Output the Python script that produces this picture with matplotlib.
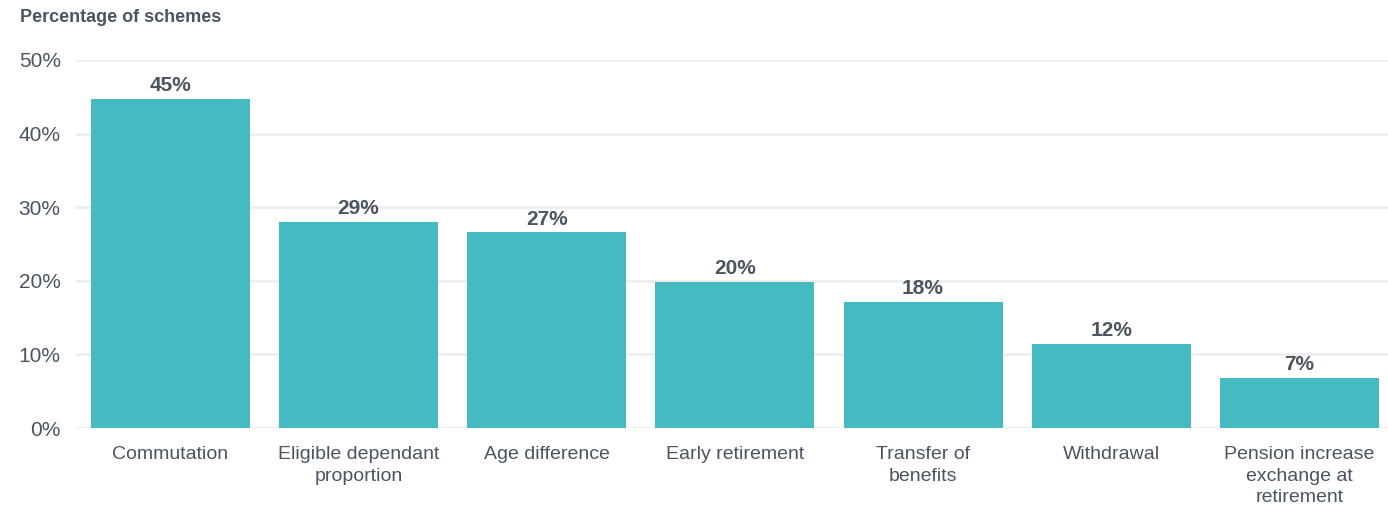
import matplotlib
matplotlib.use("Agg")
import matplotlib.pyplot as plt
from matplotlib.ticker import FuncFormatter

categories = ["Commutation", "Eligible dependant\nproportion", "Age difference",
              "Early retirement", "Transfer of\nbenefits", "Withdrawal",
              "Pension increase\nexchange at\nretirement"]
values = [44.7, 28.0, 26.6, 19.9, 17.1, 11.4, 6.8]
value_labels = ["45%", "29%", "27%", "20%", "18%", "12%", "7%"]
yticks = [0, 10, 20, 30, 40, 50]

plt.rcParams['font.family'] = ['Liberation Sans', 'DejaVu Sans']
text_color = "#4a5561"
bar_color = "#45bac1"

fig = plt.figure(figsize=(13.88, 5.07), dpi=100)
ax = fig.add_axes([76/1388, 79/507, 1 - 76/1388, (428-60)/507])

x = list(range(len(categories)))
ax.bar(x, values, width=0.845, color=bar_color, zorder=3)
for xi, v, lab in zip(x, values, value_labels):
    ax.text(xi, v + 0.5, lab, ha="center", va="bottom", fontsize=15,
            fontweight="bold", color=text_color)

ax.set_xlim(-0.5, 6.47)
ax.set_ylim(0, 50)
ax.set_yticks(yticks)
ax.yaxis.set_major_formatter(FuncFormatter(lambda v, p: f"{int(v)}%"))
ax.grid(axis="y", color="#eeeeee", linewidth=2, zorder=0)
ax.set_axisbelow(True)
for s in ax.spines.values():
    s.set_visible(False)
ax.set_xticks(x)
ax.set_xticklabels(categories, fontsize=14, color=text_color, linespacing=1.35)
ax.tick_params(axis="x", length=0, pad=13)
ax.tick_params(axis="y", length=0, pad=11, labelsize=15, labelcolor=text_color)

fig.text(20/1388, 1 - 18/507, "Percentage of schemes", fontsize=13, fontweight="bold",
         color=text_color, ha="left", va="center")

fig.savefig("out.png", dpi=100)
